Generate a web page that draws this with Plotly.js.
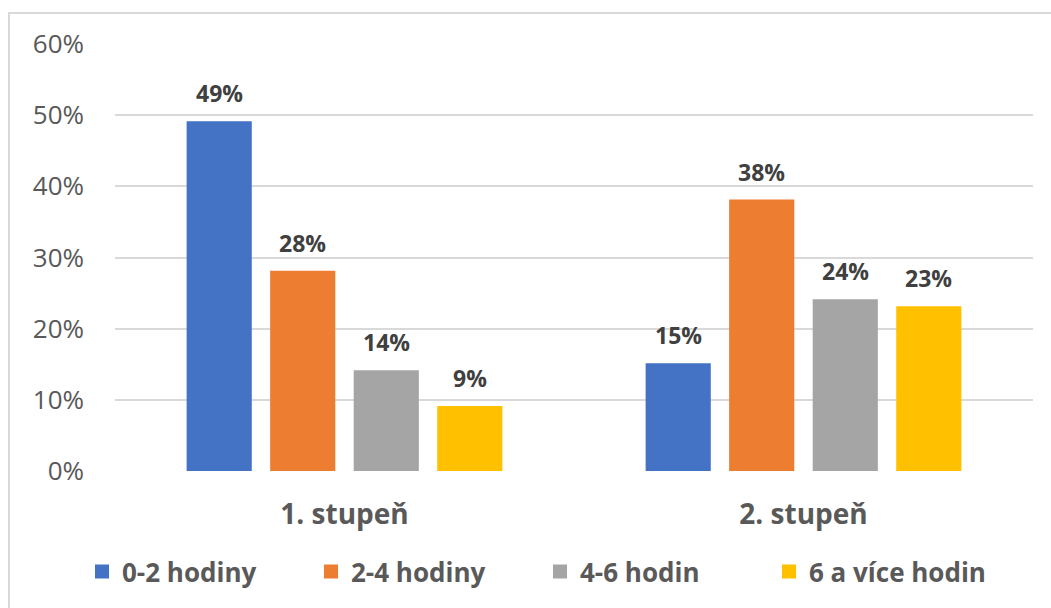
<!DOCTYPE html>
<html>
<head>
<meta charset="utf-8">
<script src="https://cdn.plot.ly/plotly-3.0.1.min.js"></script>
<style>
  html, body { margin: 0; padding: 0; background: #fff; }
  #wrap { position: absolute; left: 0; top: 0; width: 1051px; height: 608px; overflow: hidden; }
  #frame { position: absolute; left: 8px; top: 12px; width: 1100px; height: 700px;
           border-top: 2px solid #d9d9d9; border-left: 2px solid #d9d9d9; box-sizing: border-box; }
  #chart { position: absolute; left: 0; top: 0; width: 1051px; height: 608px; }
</style>
</head>
<body>
<div id="wrap">
  <div id="frame"></div>
  <div id="chart"></div>
</div>
<script>
const categories = ["1. stupeň", "2. stupeň"];
const seriesNames = ["0-2 hodiny", "2-4 hodiny", "4-6 hodin", "6 a více hodin"];
const seriesColors = ["#4472C4", "#ED7D31", "#A5A5A5", "#FFC000"];
const values_0_2 = [0.49, 0.15];
const values_2_4 = [0.28, 0.38];
const values_4_6 = [0.14, 0.24];
const values_6plus = [0.09, 0.23];
const yTickValues = [0, 0.1, 0.2, 0.3, 0.4, 0.5, 0.6];
const yTickLabels = ["0%", "10%", "20%", "30%", "40%", "50%", "60%"];

const allValues = [values_0_2, values_2_4, values_4_6, values_6plus];
const FONT = "'Open Sans', 'Noto Sans', sans-serif";
const BARGAP = 0.272;
const nSeries = allValues.length;

const traces = allValues.map((vals, i) => ({
  type: "bar",
  name: seriesNames[i],
  x: categories,
  y: vals,
  marker: { color: seriesColors[i], line: { color: seriesColors[i], width: 2 } },
  hoverinfo: "skip"
}));

// data labels placed over each bar slot (slot offsets derived from the group layout)
const annotations = [];
allValues.forEach((vals, j) => {
  vals.forEach((v, c) => {
    annotations.push({
      x: c + (j - (nSeries - 1) / 2) * (1 - BARGAP) / nSeries,
      y: v,
      xref: "x", yref: "y",
      text: Math.round(v * 100) + "%",
      showarrow: false,
      yanchor: "middle",
      yshift: 29,
      font: { family: FONT, size: 23, color: "#404040", weight: "bold" }
    });
  });
});

const layout = {
  width: 1051,
  height: 608,
  paper_bgcolor: "rgba(0,0,0,0)",
  plot_bgcolor: "rgba(0,0,0,0)",
  margin: { l: 115, r: 18, t: 44, b: 137 },
  barmode: "group",
  bargap: BARGAP,
  bargroupgap: 0.244,
  showlegend: true,
  font: { family: FONT, color: "#595959" },
  annotations: annotations,
  xaxis: {
    type: "category",
    range: [-0.5, 1.5],
    showgrid: false,
    zeroline: false,
    showline: false,
    ticks: "",
    tickfont: { family: FONT, size: 28, color: "#595959", weight: "bold" },
    ticklabelstandoff: 24
  },
  yaxis: {
    range: [0, 0.6],
    tickvals: yTickValues,
    ticktext: yTickLabels,
    showgrid: true,
    gridcolor: "#d9d9d9",
    gridwidth: 2,
    zeroline: false,
    showline: false,
    ticks: "",
    tickfont: { family: FONT, size: 26, color: "#595959" },
    ticklabelstandoff: 30
  },
  legend: {
    orientation: "h",
    x: 82 / 1051,
    xref: "container",
    xanchor: "left",
    y: 0.06,
    yref: "container",
    yanchor: "middle",
    entrywidth: 184,
    entrywidthmode: "pixels",
    font: { family: FONT, size: 26, color: "#595959", weight: "bold" },
    traceorder: "normal",
    itemclick: false,
    itemdoubleclick: false
  }
};

Plotly.newPlot("chart", traces, layout, { displayModeBar: false, staticPlot: true });
</script>
</body>
</html>
